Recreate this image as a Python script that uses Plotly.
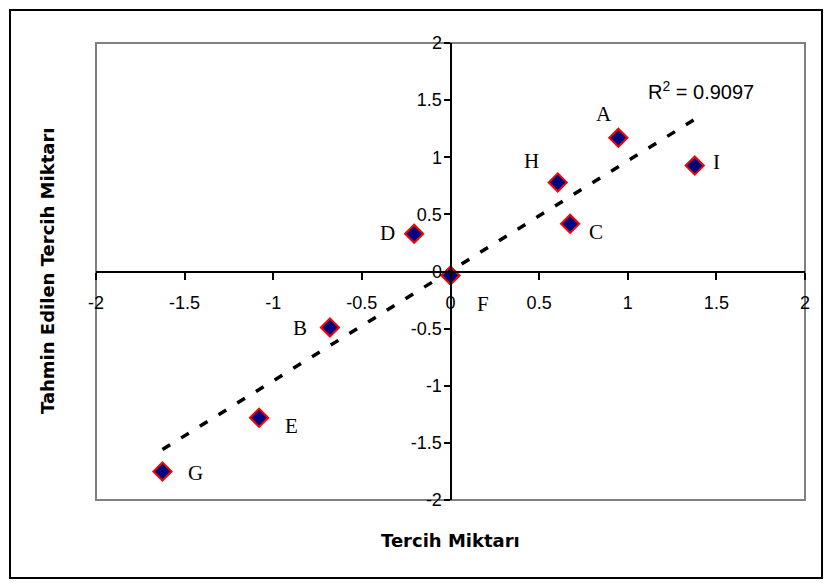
import numpy as np
import plotly.graph_objects as go

# ---- data ----
labels = ["A", "B", "C", "D", "E", "F", "G", "H", "I"]
tercih = [0.947, -0.68, 0.675, -0.205, -1.08, 0.0, -1.625, 0.605, 1.378]
tahmin = [1.17, -0.49, 0.417, 0.33, -1.28, -0.035, -1.75, 0.78, 0.927]
ticks = [-2, -1.5, -1, -0.5, 0, 0.5, 1, 1.5, 2]
tick_text = ["-2", "-1.5", "-1", "-0.5", "0", "0.5", "1", "1.5", "2"]
r2_text = "R<sup>2</sup> = 0.9097"
x_title = "Tercih Miktarı"
y_title = "Tahmin Edilen Tercih Miktarı"

# label offsets in pixels (dx right, dy down)
label_offsets = {
    "A": (-14, -24), "B": (-30, 1), "C": (26, 8), "D": (-27, -1),
    "E": (32, 8), "F": (32, 28), "G": (33, 2), "H": (-26, -21), "I": (22, -4),
}

# linear trendline from the data
slope, intercept = np.polyfit(tercih, tahmin, 1)
tx = np.array([min(tercih), max(tercih)])
ty = slope * tx + intercept

fig = go.Figure()
fig.add_trace(go.Scatter(
    x=tx, y=ty, mode="lines",
    line=dict(color="black", width=3.5, dash="9px,13px"),
    hoverinfo="skip", showlegend=False,
))
fig.add_trace(go.Scatter(
    x=tercih, y=tahmin, mode="markers",
    marker=dict(symbol="diamond", size=14, color="#000080",
                line=dict(color="#FF0000", width=2)),
    showlegend=False,
))

annotations = []
for lab, xv, yv in zip(labels, tercih, tahmin):
    dx, dy = label_offsets[lab]
    annotations.append(dict(
        x=xv, y=yv, xref="x", yref="y", text=lab, showarrow=False,
        xshift=dx, yshift=-dy,
        font=dict(family="Liberation Serif, Times New Roman, serif", size=21, color="black"),
    ))
annotations.append(dict(
    x=1.416, y=1.58, xref="x", yref="y", text=r2_text, showarrow=False,
    font=dict(family="Liberation Sans, Arial, sans-serif", size=20, color="black"),
))
annotations.append(dict(
    x=0.5007, y=-0.0897, xref="paper", yref="paper", text=x_title, showarrow=False,
    font=dict(family="DejaVu Sans, sans-serif", size=18, color="black", weight="bold"),
    xanchor="center", yanchor="middle",
))
annotations.append(dict(
    x=-0.0691, y=0.501, xref="paper", yref="paper", text=y_title, showarrow=False,
    textangle=-90,
    font=dict(family="DejaVu Sans, sans-serif", size=18, color="black", weight="bold"),
    xanchor="center", yanchor="middle",
))

shapes = [
    # gray plot-area border
    dict(type="rect", xref="paper", yref="paper", x0=0, y0=0, x1=1, y1=1,
         line=dict(color="#808080", width=2), layer="below"),
    # outer chart border
    dict(type="rect", xref="paper", yref="paper",
         x0=-0.1213, y0=-0.1707, x1=1.024, y1=1.072,
         line=dict(color="black", width=2), layer="below"),
]

tick_font = dict(family="Liberation Sans, Arial, sans-serif", size=18, color="black")

fig.update_layout(
    width=825, height=579,
    margin=dict(l=88, r=28, t=35, b=87),
    paper_bgcolor="white", plot_bgcolor="white",
    annotations=annotations, shapes=shapes,
    xaxis=dict(
        range=[-2, 2], anchor="free", position=0.5,
        tickmode="array", tickvals=ticks, ticktext=tick_text,
        ticks="outside", ticklen=7, tickwidth=1.5, tickcolor="black",
        showline=True, linecolor="black", linewidth=2,
        showgrid=False, zeroline=False, tickfont=tick_font,
        ticklabelstandoff=8,
    ),
    yaxis=dict(
        range=[-2, 2], anchor="free", position=0.5,
        tickmode="array", tickvals=ticks, ticktext=tick_text,
        ticks="outside", ticklen=6, tickwidth=1.5, tickcolor="black",
        showline=True, linecolor="black", linewidth=2,
        showgrid=False, zeroline=False, tickfont=tick_font,
        ticklabelstandoff=-2,
    ),
)

fig.write_html("out.html")
